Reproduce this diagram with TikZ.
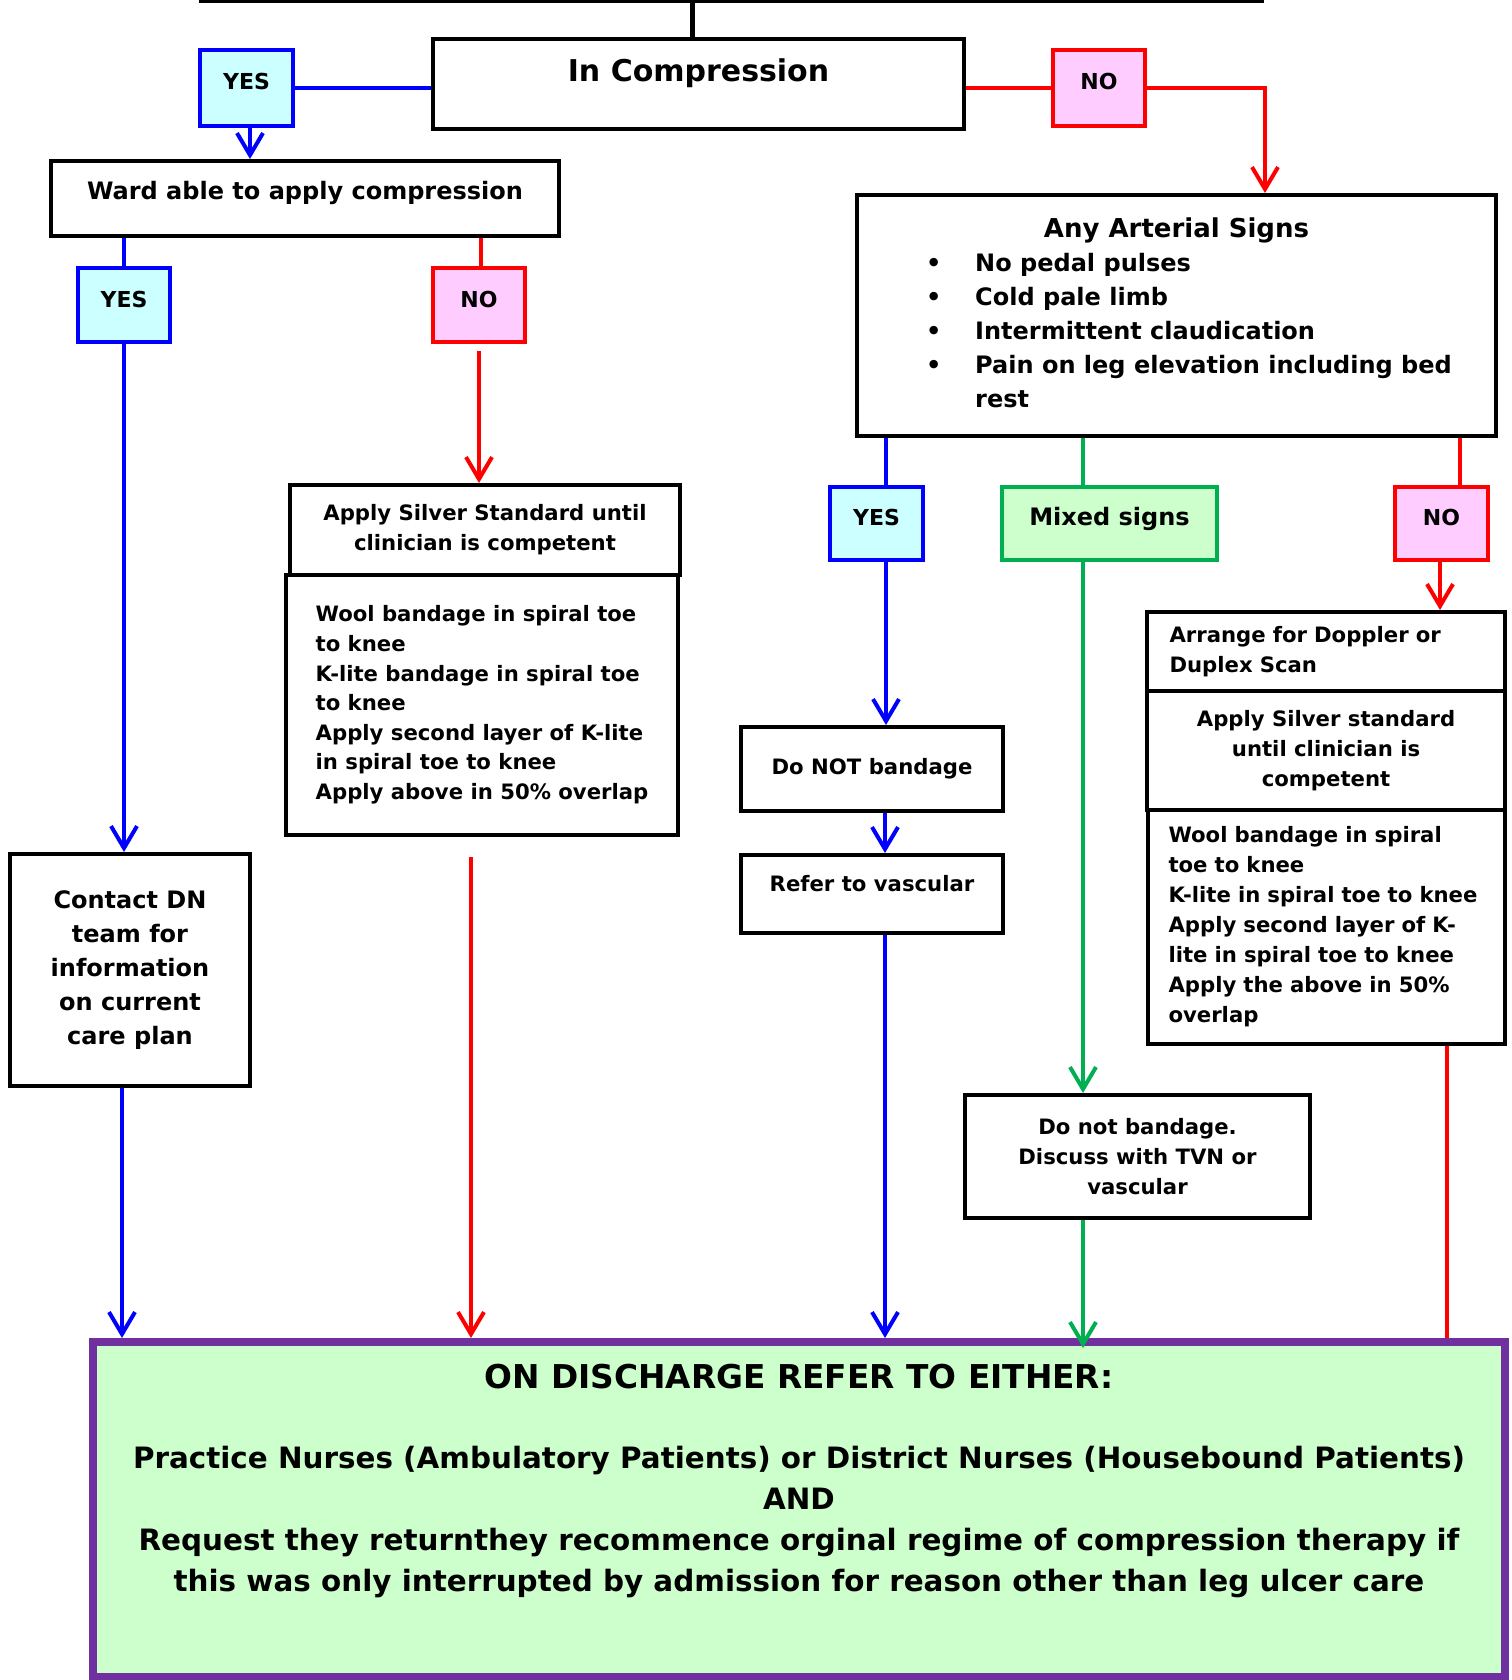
\documentclass[tikz,border=0pt]{standalone}
\usepackage{fontspec}
\setmainfont{DejaVu Sans}
\usetikzlibrary{arrows.meta}
\definecolor{yescyan}{HTML}{CCFFFF}
\definecolor{nopink}{HTML}{FFCCFF}
\definecolor{mixgreen}{HTML}{CCFFCC}
\definecolor{linegreen}{HTML}{00B050}
\definecolor{dpurple}{HTML}{7030A0}
\newcommand\fz[2]{\fontsize{#1}{#2}\selectfont\bfseries}
\begin{document}
\begin{tikzpicture}[x=0.5pt,y=-0.5pt,
		box/.style={draw,line width=2pt,fill=white,inner sep=0pt,align=center,font=\fz{10.6}{15}},
		yesbox/.style={box,draw=blue,fill=yescyan,font=\fz{11}{13},text height=8pt,text depth=6pt},
		nobox/.style={box,draw=red,fill=nopink,font=\fz{11}{13},text height=8pt,text depth=6pt},
		link/.style={line width=2pt},
		arr/.style={link,-{Straight Barb[length=11pt,width=13pt]}}]
	\useasboundingbox (0,0) rectangle (1511,1680);
	% left branch
	\node[box,font=\fz{15}{18},minimum width=265.5pt,minimum height=45pt,text height=11pt,text depth=13pt] (comp) at (698.5,84) {In Compression};
	\node[yesbox,minimum width=46.5pt,minimum height=38pt] (yesA) at (246.5,88) {YES};
	\node[nobox,minimum width=46pt,minimum height=38pt] (noA) at (1099,88) {NO};
	\node[box,font=\fz{12}{15},minimum width=254pt,minimum height=37.5pt,text height=9pt,text depth=8pt] (ward) at (305,198.5) {Ward able to apply compression};
	\node[yesbox,minimum width=46pt,minimum height=37pt] (yesB) at (124,305) {YES};
	\node[nobox,minimum width=46pt,minimum height=37pt] (noB) at (479,305) {NO};
	\node[box,minimum width=195pt,minimum height=45pt] (silverA) at (485,530) {Apply Silver Standard until\\clinician is competent};
	\node[box,align=left,font=\fz{10.6}{14.8},minimum width=196pt,minimum height=130pt] (woolA) at (482,705) {Wool bandage in spiral toe\\to knee\\K-lite bandage in spiral toe\\to knee\\Apply second layer of K-lite\\in spiral toe to knee\\Apply above in 50\% overlap};
	\node[box,font=\fz{12}{17},minimum width=120pt,minimum height=116pt] (contact) at (130,970) {Contact DN\\team for\\information\\on current\\care plan};
	% right branch
	\node[box,font=\fz{12}{17},minimum width=319.5pt,minimum height=120.5pt] (art) at (1176.5,315.5) {\begin{tabular}{@{\hspace{12.5pt}}p{24.5pt}@{}l@{}}
			\multicolumn{2}{@{}c@{}}{\fz{13}{17}Any Arterial Signs}\\
			\textbullet & No pedal pulses\\
			\textbullet & Cold pale limb\\
			\textbullet & Intermittent claudication\\
			\textbullet & Pain on leg elevation including bed\\
			& rest
		\end{tabular}};
	\node[yesbox,minimum width=46.5pt,minimum height=36.5pt] (yesC) at (876.5,523.5) {YES};
	\node[box,draw=linegreen,fill=mixgreen,font=\fz{12}{15},minimum width=107.5pt,minimum height=36.5pt,text height=9pt,text depth=7.5pt] (mixed) at (1109.5,523.5) {Mixed signs};
	\node[nobox,minimum width=46.5pt,minimum height=36.5pt] (noC) at (1441.5,523.5) {NO};
	\node[box,text width=156.5pt,align=left,minimum width=179pt,minimum height=39.5pt] (doppler) at (1326,651.5) {Arrange for Doppler or\\Duplex Scan};
	\node[box,minimum width=179pt,minimum height=59.5pt] (silverB) at (1326,750.5) {Apply Silver standard\\until clinician is\\competent};
	\node[box,text width=158pt,align=left,minimum width=178.5pt,minimum height=117pt] (woolB) at (1326.5,927) {Wool bandage in spiral\\toe to knee\\K-lite in spiral toe to knee\\Apply second layer of K-\\lite in spiral toe to knee\\Apply the above in 50\%\\overlap};
	\node[box,minimum width=131pt,minimum height=42pt] (donot) at (872,769) {Do NOT bandage};
	\node[box,minimum width=131pt,minimum height=39pt,text height=8pt,text depth=11pt] (refer) at (872,894) {Refer to vascular};
	\node[box,minimum width=172.5pt,minimum height=61.5pt] (discuss) at (1137.5,1156.5) {Do not bandage.\\Discuss with TVN or\\vascular};
	% bottom
	\node[box,draw=dpurple,fill=mixgreen,line width=4pt,minimum width=706pt,minimum height=167.5pt] (discharge) at (799,1509.5) {};
	\node[anchor=north,inner sep=0pt,align=center,font=\fz{14.7}{20.5}] (dischargetxt) at ([yshift=-13pt]discharge.north) {{\fz{16.4}{20.5}ON DISCHARGE REFER TO EITHER:}\\[19.5pt]Practice Nurses (Ambulatory Patients) or District Nurses (Housebound Patients)\\AND\\Request they returnthey recommence orginal regime of compression therapy if\\this was only interrupted by admission for reason other than leg ulcer care};
	% connectors
	\coordinate (tl) at (199,0);
	\coordinate (tr) at (1264,0);
	\coordinate (tm) at (692,0);
	\coordinate (noturn) at (1265,88);
	\draw[line width=3pt] (tl) -- (tr);
	\draw[line width=2.5pt] (tm) -- (tm |- comp.north);
	\draw[link,blue] (yesA.east) -- (yesA.east -| comp.west);
	\draw[link,red] (comp.east |- noA.west) -- (noA.west);
	\draw[arr,red] (noA.east) -- (noturn) -- (noturn |- art.north);
	\draw[arr,blue] ([xshift=1.75pt]yesA.south) -- ([xshift=1.75pt]yesA.south |- ward.north);
	\draw[link,blue] (yesB.north |- ward.south) -- (yesB.north);
	\draw[link,red] ([xshift=1pt]noB.north |- ward.south) -- ([xshift=1pt]noB.north);
	\draw[arr,blue] (yesB.south) -- (yesB.south |- contact.north);
	\draw[arr,red] ([yshift=-3.5pt]noB.south) -- (noB.south |- silverA.north);
	\draw[arr,blue] ([xshift=-4pt]contact.south) -- ([xshift=-4pt]contact.south |- discharge.north);
	\draw[arr,red] ([xshift=-5.5pt,yshift=-10pt]woolA.south) -- ([xshift=-5.5pt]woolA.south |- discharge.north);
	\draw[link,blue] ([xshift=4.75pt]yesC.north |- art.south) -- ([xshift=4.75pt]yesC.north);
	\draw[arr,blue] ([xshift=4.75pt]yesC.south) -- ([xshift=4.75pt]yesC.south |- donot.north);
	\draw[arr,blue] ([xshift=6.5pt]donot.south) -- ([xshift=6.5pt]refer.north);
	\draw[arr,blue] ([xshift=6.5pt]refer.south) -- ([xshift=6.5pt]refer.south |- discharge.north);
	\draw[link,linegreen] ([xshift=-13.25pt]mixed.north |- art.south) -- ([xshift=-13.25pt]mixed.north);
	\draw[arr,linegreen] ([xshift=-13.25pt]mixed.south) -- ([xshift=-13.25pt]mixed.south |- discuss.north);
	\draw[arr,linegreen,shorten >=-5pt] ([xshift=-27.25pt]discuss.south) -- ([xshift=-27.25pt]discuss.south |- discharge.north);
	\draw[link,red] ([xshift=9pt]noC.north |- art.south) -- ([xshift=9pt]noC.north);
	\draw[arr,red] ([xshift=-0.75pt]noC.south) -- ([xshift=-0.75pt]noC.south |- doppler.north);
	\draw[link,red] ([xshift=60pt]woolB.south) -- ([xshift=60pt]woolB.south |- discharge.north);
\end{tikzpicture}
\end{document}
